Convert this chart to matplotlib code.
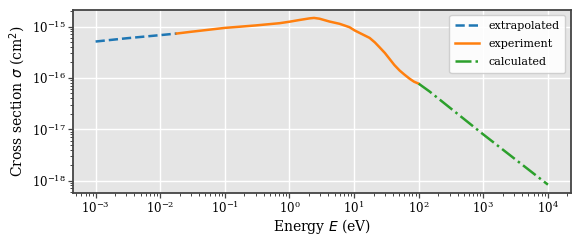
import numpy as np
import matplotlib
matplotlib.use('Agg')
import matplotlib.pyplot as plt

# data (energy in eV, cross section in cm^2)
E_extra = [1e-3, 3e-3, 0.01, 0.018]
sig_extra = [5.1e-16, 5.9e-16, 6.8e-16, 7.3e-16]

E_exp = [0.018, 0.03, 0.1, 0.3, 0.7, 1.0, 1.43, 2.04, 2.4, 2.92, 4.17, 5.96, 8.5, 10.2, 13.0,
         17.4, 21.0, 24.8, 30.0, 35.5, 42.0, 50.7, 60.0, 72.5, 85.0, 100.0]
sig_exp = [7.3e-16, 7.9e-16, 9.4e-16, 1.05e-15, 1.16e-15, 1.24e-15, 1.34e-15, 1.44e-15, 1.47e-15,
           1.42e-15, 1.25e-15, 1.13e-15, 9.7e-16, 8.4e-16, 7.2e-16, 6.0e-16, 4.9e-16, 3.94e-16,
           3.05e-16, 2.33e-16, 1.78e-16, 1.39e-16, 1.16e-16, 9.6e-17, 8.4e-17, 7.7e-17]

E_calc = [100.0, 148.0, 1000.0, 10000.0]
sig_calc = [7.7e-17, 5.4e-17, 7.9e-18, 8.3e-19]

x_ticks = [1e-3, 1e-2, 1e-1, 1e0, 1e1, 1e2, 1e3, 1e4]
y_ticks = [1e-18, 1e-17, 1e-16, 1e-15]

plt.rcParams['font.family'] = 'DejaVu Serif'
plt.rcParams['font.size'] = 10

fig, ax = plt.subplots(figsize=(5.81, 2.46), dpi=100)
fig.subplots_adjust(left=0.1256, right=0.982, top=0.961, bottom=0.2154)

ax.set_facecolor('#E5E5E5')
ax.grid(True, which='major', color='white', linewidth=1.0)
ax.set_axisbelow(True)

ax.plot(E_extra, sig_extra, '--', color='tab:blue', lw=1.8, label='extrapolated')
ax.plot(E_exp, sig_exp, '-', color='tab:orange', lw=1.8, label='experiment')
ax.plot(E_calc, sig_calc, '-.', color='tab:green', lw=1.8, label='calculated')

ax.set_xscale('log')
ax.set_yscale('log')
ax.set_xticks(x_ticks)
ax.set_yticks(y_ticks)

for sp in ax.spines.values():
    sp.set_color('#444444')
    sp.set_linewidth(1.3)
ax.tick_params(which='both', colors='#444444', labelcolor='black', labelsize=8.5)
ax.tick_params(which='major', length=3.5, width=0.9, pad=1.5)
ax.tick_params(which='minor', length=2, width=0.7)

ax.set_xlabel(r'Energy $E$ (eV)', fontsize=10, labelpad=1)
ax.set_ylabel(r'Cross section $\sigma$ (cm$^2$)', fontsize=10, labelpad=3)

ax.legend(loc='upper right', fontsize=8, framealpha=0.9, facecolor='white', edgecolor='#CCCCCC',
          handlelength=2.2, borderpad=0.5, labelspacing=0.75)

plt.savefig('out.png', dpi=100)
